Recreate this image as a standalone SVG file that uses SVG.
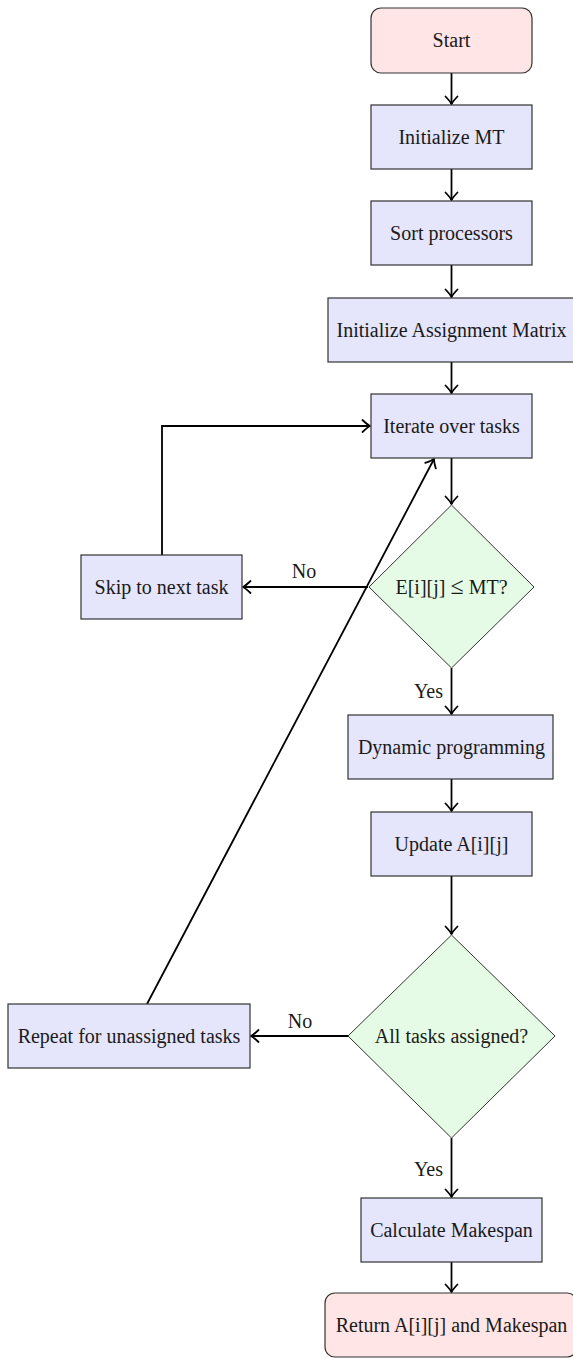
<svg xmlns="http://www.w3.org/2000/svg" width="573" height="1358" viewBox="0 0 573 1358">
<style>
.term{fill:#ffe5e5;stroke:#333;stroke-width:1.2}
.proc{fill:#e5e5fb;stroke:#333;stroke-width:1.2}
.dec{fill:#e5fbe5;stroke:#333;stroke-width:1}
.t{font-family:"Liberation Serif","Times New Roman",serif;font-size:20px;fill:#1a1a1a;text-anchor:middle}
.c{fill:none;stroke:#000;stroke-width:1.8}
.lab{font-family:"Liberation Serif","Times New Roman",serif;font-size:20px;fill:#1a1a1a}
</style>
<defs>
<marker id="arr" markerUnits="userSpaceOnUse" markerWidth="16" markerHeight="16" viewBox="-11 -8 13 16" refX="0" refY="0" orient="auto">
<path d="M-7.5,-6 Q-2.5,-1.2 0,0 Q-2.5,1.2 -7.5,6" fill="none" stroke="#000" stroke-width="1.8" stroke-linecap="round" stroke-linejoin="round"/>
</marker>
</defs>
<g id="connectors">
<line class="c" x1="451.5" y1="73" x2="451.5" y2="104" marker-end="url(#arr)"/>
<line class="c" x1="451.5" y1="169" x2="451.5" y2="200" marker-end="url(#arr)"/>
<line class="c" x1="451.5" y1="265" x2="451.5" y2="297" marker-end="url(#arr)"/>
<line class="c" x1="451.5" y1="362" x2="451.5" y2="393" marker-end="url(#arr)"/>
<line class="c" x1="451.5" y1="458" x2="451.5" y2="504" marker-end="url(#arr)"/>
<line class="c" x1="368" y1="587" x2="243" y2="587" marker-end="url(#arr)"/>
<text class="lab" x="304" y="578" text-anchor="middle">No</text>
<path class="c" d="M162,555 V426 H370" marker-end="url(#arr)"/>
<line class="c" x1="451.5" y1="668" x2="451.5" y2="714" marker-end="url(#arr)"/>
<text class="lab" x="443" y="698" text-anchor="end">Yes</text>
<line class="c" x1="451.5" y1="779" x2="451.5" y2="811" marker-end="url(#arr)"/>
<line class="c" x1="451.5" y1="876" x2="451.5" y2="934" marker-end="url(#arr)"/>
<line class="c" x1="348" y1="1036" x2="251" y2="1036" marker-end="url(#arr)"/>
<text class="lab" x="300" y="1028" text-anchor="middle">No</text>
<line class="c" x1="147" y1="1004" x2="434" y2="459" marker-end="url(#arr)"/>
<line class="c" x1="451.5" y1="1138" x2="451.5" y2="1197" marker-end="url(#arr)"/>
<text class="lab" x="443" y="1176" text-anchor="end">Yes</text>
<line class="c" x1="451.5" y1="1262" x2="451.5" y2="1292" marker-end="url(#arr)"/>
</g>
<g id="start"><rect class="term" x="371" y="8" width="161" height="65" rx="10"/><text class="t" x="451.5" y="47">Start</text></g>
<g id="initMT"><rect class="proc" x="371" y="105" width="161" height="64"/><text class="t" x="451.5" y="144">Initialize MT</text></g>
<g id="sort"><rect class="proc" x="371" y="201" width="161" height="64"/><text class="t" x="451.5" y="240">Sort processors</text></g>
<g id="initA"><rect class="proc" x="328" y="298" width="247" height="64"/><text class="t" x="451.5" y="337">Initialize Assignment Matrix</text></g>
<g id="iterate"><rect class="proc" x="371" y="394" width="161" height="64"/><text class="t" x="451.5" y="433">Iterate over tasks</text></g>
<g id="check"><polygon class="dec" points="451.5,505 534,587 451.5,668 369,587"/><text class="t" x="451.5" y="594">E[i][j] <tspan font-size="24">≤</tspan> MT?</text></g>
<g id="skip"><rect class="proc" x="81" y="555" width="161" height="64"/><text class="t" x="161.5" y="594">Skip to next task</text></g>
<g id="dp"><rect class="proc" x="348" y="715" width="205" height="64"/><text class="t" x="451.5" y="754">Dynamic programming</text></g>
<g id="update"><rect class="proc" x="371" y="812" width="161" height="64"/><text class="t" x="451.5" y="851">Update A[i][j]</text></g>
<g id="allAssigned"><polygon class="dec" points="451.5,935 555,1036 451.5,1138 348,1036"/><text class="t" x="451.5" y="1043">All tasks assigned?</text></g>
<g id="repeat"><rect class="proc" x="8" y="1004" width="242" height="64"/><text class="t" x="129" y="1043">Repeat for unassigned tasks</text></g>
<g id="calc"><rect class="proc" x="361" y="1198" width="181" height="64"/><text class="t" x="451.5" y="1237">Calculate Makespan</text></g>
<g id="return"><rect class="term" x="325" y="1293" width="252" height="64" rx="10"/><text class="t" x="451.5" y="1332">Return A[i][j] and Makespan</text></g>
</svg>
